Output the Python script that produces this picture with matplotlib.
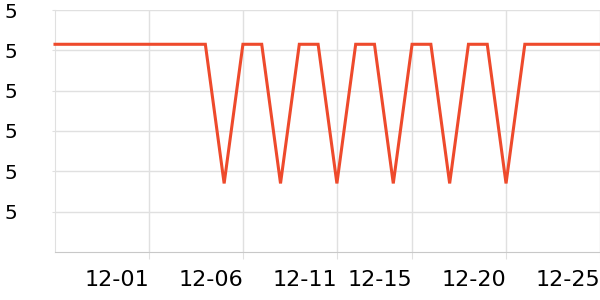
import matplotlib
matplotlib.use('Agg')
import matplotlib.pyplot as plt
import matplotlib.ticker as mticker
import pandas as pd

# ---------------- data ---------------- #
dates = pd.date_range('2023-11-26', '2023-12-25', freq='D')
alto = 4.983
baixo = 4.914
valores = [alto, alto, alto, alto, alto, alto, alto, alto, alto,   # 11-26 .. 12-04
           baixo, alto, alto,                                      # 12-05 .. 12-07
           baixo, alto, alto,                                      # 12-08 .. 12-10
           baixo, alto, alto,                                      # 12-11 .. 12-13
           baixo, alto, alto,                                      # 12-14 .. 12-16
           baixo, alto, alto,                                      # 12-17 .. 12-19
           baixo, alto, alto, alto, alto, alto]                    # 12-20 .. 12-25

tick_dates = pd.to_datetime(['2023-12-01', '2023-12-06', '2023-12-11',
                             '2023-12-15', '2023-12-20', '2023-12-25'])
tick_labels = ['12-01', '12-06', '12-11', '12-15', '12-20', '12-25']
y_ticks = [4.90, 4.92, 4.94, 4.96, 4.98, 5.00]

# ---------------- figura ---------------- #
cor_linha = '#ee4a2c'
cor_grade = '#e0e0e0'
cor_eixo = '#c8c8c8'

fig = plt.figure(figsize=(6, 3), dpi=100)
ax = fig.add_axes([55/600, 48/300, 545/600, 242/300])

ax.plot(dates, valores, color=cor_linha, linewidth=2.2, solid_joinstyle='miter', clip_on=False, zorder=3)

ax.set_xlim(dates[0], dates[-1])
ax.set_ylim(4.88, 5.00)

ax.set_yticks(y_ticks)
ax.yaxis.set_major_formatter(mticker.FormatStrFormatter('%.0f'))
ax.set_xticks(list(tick_dates))
ax.set_xticklabels(tick_labels, ha='right')

ax.grid(True, color=cor_grade, linewidth=1.0)
ax.set_axisbelow(True)

for lado in ['top', 'right']:
    ax.spines[lado].set_visible(False)
ax.spines['left'].set_color(cor_grade)
ax.spines['bottom'].set_color(cor_eixo)

ax.tick_params(axis='y', length=2, color=cor_grade, labelsize=14.5, pad=34)
for t in ax.get_yticklabels():
    t.set_horizontalalignment('left')
ax.tick_params(axis='x', length=5, color=cor_grade, labelsize=16, pad=8)

fig.savefig('out.png', dpi=100)
